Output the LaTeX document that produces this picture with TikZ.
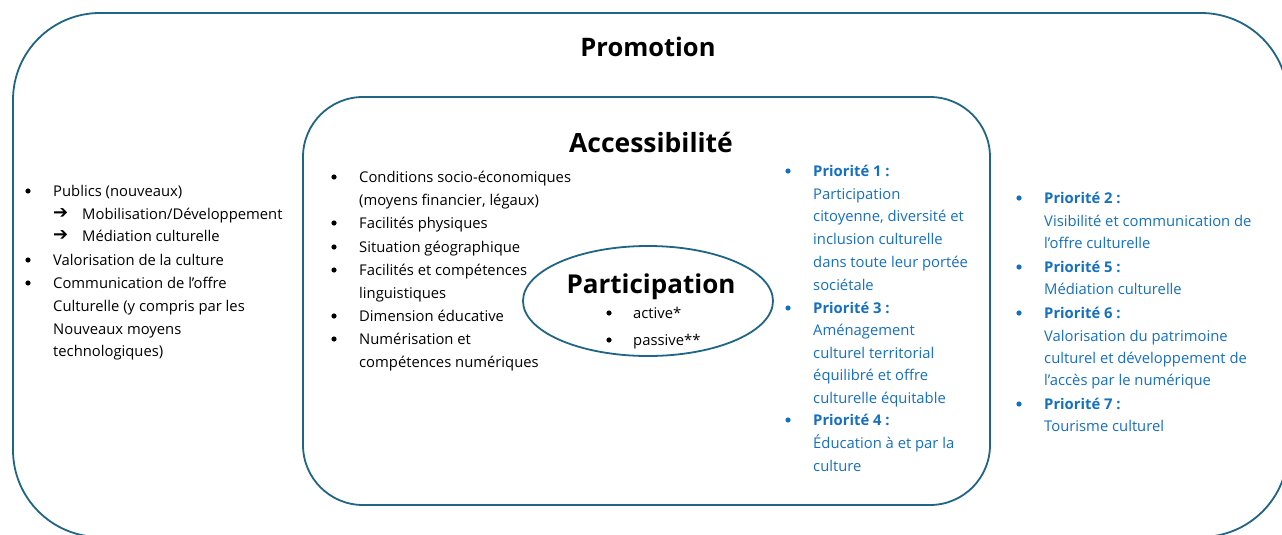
\documentclass[tikz,border=0pt]{standalone}
\usepackage{fontspec}
\setmainfont{Open Sans}
\newfontfamily\djv{DejaVu Sans}
\definecolor{framec}{HTML}{1F6585}
\definecolor{prio}{HTML}{1570C0}
\begin{document}
\begin{tikzpicture}[x=1pt,y=-1pt,
  txt/.style={anchor=base west, inner sep=0pt, font=\fontsize{14.8}{17}\selectfont},
  btxt/.style={txt, text=prio},
  bbold/.style={txt, text=prio, font=\fontsize{14.8}{17}\selectfont\bfseries},
  dot/.style={circle, fill=black, inner sep=0pt, minimum size=5.2pt},
  bdot/.style={dot, fill=prio},
  arr/.style={anchor=west, inner sep=0pt, font=\djv\bfseries\fontsize{18}{20}\selectfont},
  title/.style={inner sep=0pt, font=\bfseries\fontsize{25.5}{28}\selectfont},
  boxline/.style={draw=framec, line width=1.8pt}
]
\useasboundingbox (0,0) rectangle (1282,535);
\clip (0,0) rectangle (1282,535);
\fill[white] (0,0) rectangle (1282,535);

% frames
\draw[boxline, rounded corners=87pt] (13,13) rectangle (1288,537);
\draw[boxline, rounded corners=60pt] (303,97) rectangle (990,505);
\draw[boxline] (648,301) ellipse [x radius=125, y radius=55];

% titles
\node[title] (promo) at (648,47) {Promotion};
\node[title, font=\bfseries\fontsize{26.5}{29}\selectfont] (access) at (651,142) {Accessibilité};
\node[title, font=\bfseries\fontsize{26}{29}\selectfont] (partic) at (651,287) {Participation};

% left column
\node[dot] (lb1) at (28,191) {}; \node[txt] (l1) at (53,196) {Publics (nouveaux)};
\node[arr] (la2) at (53,214) {➔}; \node[txt] (l2) at (82,219) {Mobilisation/Développement};
\node[arr] (la3) at (53,236) {➔}; \node[txt] (l3) at (82,241) {Médiation culturelle};
\node[dot] (lb4) at (28,260) {}; \node[txt] (l4) at (53,265) {Valorisation de la culture};
\node[dot] (lb5) at (28,283) {}; \node[txt] (l5) at (53,288) {Communication de l’offre};
\node[txt] (l6) at (53,311) {Culturelle (y compris par les};
\node[txt] (l7) at (53,334) {Nouveaux moyens};
\node[txt] (l8) at (53,356) {technologiques)};

% middle column
\node[dot] (mb1) at (334,177) {}; \node[txt] (m1) at (359,182) {Conditions socio-économiques};
\node[txt] (m2) at (359,205) {(moyens financier, légaux)};
\node[dot] (mb3) at (334,223) {}; \node[txt] (m3) at (359,228) {Facilités physiques};
\node[dot] (mb4) at (334,247) {}; \node[txt] (m4) at (359,252) {Situation géographique};
\node[dot] (mb5) at (334,270) {}; \node[txt] (m5) at (359,275) {Facilités et compétences};
\node[txt] (m6) at (359,298) {linguistiques};
\node[dot] (mb7) at (334,316) {}; \node[txt] (m7) at (359,321) {Dimension éducative};
\node[dot] (mb8) at (334,339) {}; \node[txt] (m8) at (359,344) {Numérisation et};
\node[txt] (m9) at (359,367) {compétences numériques};

% participation bullets
\node[dot] (pb1) at (609,313) {}; \node[txt] (p1) at (633,318) {active*};
\node[dot] (pb2) at (609,340) {}; \node[txt] (p2) at (633,345) {passive**};

% inner priorities
\node[bdot] (ib1) at (788,171) {}; \node[bbold] (i1) at (813,176) {Priorité 1~:};
\node[btxt] (i2) at (813,199) {Participation};
\node[btxt] (i3) at (813,221) {citoyenne, diversité et};
\node[btxt] (i4) at (813,244) {inclusion culturelle};
\node[btxt] (i5) at (813,267) {dans toute leur portée};
\node[btxt] (i6) at (813,290) {sociétale};
\node[bdot] (ib7) at (788,308) {}; \node[bbold] (i7) at (813,313) {Priorité 3~:};
\node[btxt] (i8) at (813,335) {Aménagement};
\node[btxt] (i9) at (813,358) {culturel territorial};
\node[btxt] (i10) at (813,380) {équilibré et offre};
\node[btxt] (i11) at (813,403) {culturelle équitable};
\node[bdot] (ib12) at (788,420) {}; \node[bbold] (i12) at (813,425) {Priorité 4~:};
\node[btxt] (i13) at (813,448) {Éducation à et par la};
\node[btxt] (i14) at (813,471) {culture};

% right priorities
\node[bdot] (rb1) at (1019,198) {}; \node[bbold] (r1) at (1044,203) {Priorité 2~:};
\node[btxt] (r2) at (1044,226) {Visibilité et communication de};
\node[btxt] (r3) at (1044,248) {l’offre culturelle};
\node[bdot] (rb4) at (1019,267) {}; \node[bbold] (r4) at (1044,272) {Priorité 5~:};
\node[btxt] (r5) at (1044,294) {Médiation culturelle};
\node[bdot] (rb6) at (1019,313) {}; \node[bbold] (r6) at (1044,318) {Priorité 6~:};
\node[btxt] (r7) at (1044,341) {Valorisation du patrimoine};
\node[btxt] (r8) at (1044,363) {culturel et développement de};
\node[btxt] (r9) at (1044,385) {l’accès par le numérique};
\node[bdot] (rb10) at (1019,404) {}; \node[bbold] (r10) at (1044,409) {Priorité 7~:};
\node[btxt] (r11) at (1044,431) {Tourisme culturel};
\end{tikzpicture}
\end{document}
